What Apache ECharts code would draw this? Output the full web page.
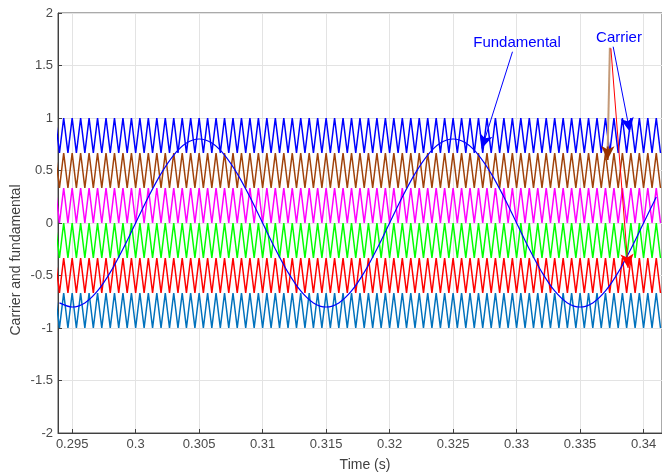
<!DOCTYPE html>
<html>
<head>
<meta charset="utf-8">
<script src="https://cdn.jsdelivr.net/npm/echarts@6/dist/echarts.min.js"></script>
<style>
html,body{margin:0;padding:0;background:#fff;}
#chart{width:662px;height:474px;}
</style>
</head>
<body>
<div id="chart"></div>
<script>
// ---- data ----
// vertex times of the (phase-disposed) triangular carriers, 1.5 kHz; first vertex is a peak
const carrierTimes = [
  0.293667,
  0.294, 0.294333, 0.294667, 0.295, 0.295333, 0.295667, 0.296, 0.296333, 0.296667,
  0.297, 0.297333, 0.297667, 0.298, 0.298333, 0.298667, 0.299, 0.299333, 0.299667,
  0.300, 0.300333, 0.300667, 0.301, 0.301333, 0.301667, 0.302, 0.302333, 0.302667,
  0.303, 0.303333, 0.303667, 0.304, 0.304333, 0.304667, 0.305, 0.305333, 0.305667,
  0.306, 0.306333, 0.306667, 0.307, 0.307333, 0.307667, 0.308, 0.308333, 0.308667,
  0.309, 0.309333, 0.309667, 0.310, 0.310333, 0.310667, 0.311, 0.311333, 0.311667,
  0.312, 0.312333, 0.312667, 0.313, 0.313333, 0.313667, 0.314, 0.314333, 0.314667,
  0.315, 0.315333, 0.315667, 0.316, 0.316333, 0.316667, 0.317, 0.317333, 0.317667,
  0.318, 0.318333, 0.318667, 0.319, 0.319333, 0.319667, 0.320, 0.320333, 0.320667,
  0.321, 0.321333, 0.321667, 0.322, 0.322333, 0.322667, 0.323, 0.323333, 0.323667,
  0.324, 0.324333, 0.324667, 0.325, 0.325333, 0.325667, 0.326, 0.326333, 0.326667,
  0.327, 0.327333, 0.327667, 0.328, 0.328333, 0.328667, 0.329, 0.329333, 0.329667,
  0.330, 0.330333, 0.330667, 0.331, 0.331333, 0.331667, 0.332, 0.332333, 0.332667,
  0.333, 0.333333, 0.333667, 0.334, 0.334333, 0.334667, 0.335, 0.335333, 0.335667,
  0.336, 0.336333, 0.336667, 0.337, 0.337333, 0.337667, 0.338, 0.338333, 0.338667,
  0.339, 0.339333, 0.339667, 0.340, 0.340333, 0.340667,
  0.341, 0.341333
];
const carrierNames = ['Carrier 1', 'Carrier 2', 'Carrier 3', 'Carrier 4', 'Carrier 5', 'Carrier 6'];
const carrierHigh = [1, 0.6667, 0.3333, 0, -0.3333, -0.6667];
const carrierLow  = [0.6667, 0.3333, 0, -0.3333, -0.6667, -1];
const carrierColors = ['#0000ff', '#a0420a', '#ff00ff', '#00ff00', '#ff0000', '#0072bd'];

// fundamental (50 Hz, amplitude 0.8) sampled every 1 ms
const fundTimes = [
  0.294, 0.295, 0.296, 0.297, 0.298, 0.299, 0.300, 0.301, 0.302, 0.303, 0.304, 0.305,
  0.306, 0.307, 0.308, 0.309, 0.310, 0.311, 0.312, 0.313, 0.314, 0.315, 0.316, 0.317,
  0.318, 0.319, 0.320, 0.321, 0.322, 0.323, 0.324, 0.325, 0.326, 0.327, 0.328, 0.329,
  0.330, 0.331, 0.332, 0.333, 0.334, 0.335, 0.336, 0.337, 0.338, 0.339, 0.340, 0.341
];
const fundValues = [
  -0.7608, -0.8, -0.7608, -0.6472, -0.4702, -0.2472, 0, 0.2472, 0.4702, 0.6472, 0.7608, 0.8,
  0.7608, 0.6472, 0.4702, 0.2472, 0, -0.2472, -0.4702, -0.6472, -0.7608, -0.8, -0.7608, -0.6472,
  -0.4702, -0.2472, 0, 0.2472, 0.4702, 0.6472, 0.7608, 0.8, 0.7608, 0.6472, 0.4702, 0.2472,
  0, -0.2472, -0.4702, -0.6472, -0.7608, -0.8, -0.7608, -0.6472, -0.4702, -0.2472, 0, 0.2472
];

const xTicks = [0.295, 0.3, 0.305, 0.31, 0.315, 0.32, 0.325, 0.33, 0.335, 0.34];
const xMin = 0.293885, xMax = 0.341451;

// annotation arrows in data coordinates: [t0, v0, t1, v1]
const arrowFund   = [0.329677, 1.631, 0.327268, 0.711];
const arrowBrown  = [0.337345, 1.670, 0.337157, 0.600];
const arrowRed    = [0.337424, 1.664, 0.338782, -0.429];
const arrowBlue   = [0.337605, 1.679, 0.338915, 0.870];

// ---- chart ----
const FONT = "'Liberation Sans', Arial, sans-serif";
const chart = echarts.init(document.getElementById('chart'), null, {renderer: 'canvas'});

const series = carrierNames.map((name, k) => ({
  name: name,
  type: 'line',
  showSymbol: false,
  symbol: 'none',
  animation: false,
  silent: true,
  lineStyle: {color: carrierColors[k], width: 1.5},
  data: carrierTimes.map((t, i) => [t, i % 2 === 0 ? carrierHigh[k] : carrierLow[k]])
}));

function arrowLine(a, color, width, withArrow) {
  return [
    {coord: [a[0], a[1]], symbol: 'none', lineStyle: {color: color, width: width, type: 'solid'}},
    {coord: [a[2], a[3]], symbol: withArrow ? 'arrow' : 'none', symbolSize: [10, 14], lineStyle: {color: color, width: width, type: 'solid'}}
  ];
}
// short brown arrow head segment at end of the brown arrow
const brownHead = [arrowBrown[2] + (arrowBrown[0]-arrowBrown[2])*0.12, arrowBrown[3] + (arrowBrown[1]-arrowBrown[3])*0.12, arrowBrown[2], arrowBrown[3]];

series.push({
  name: 'Fundamental',
  type: 'line',
  showSymbol: false,
  symbol: 'none',
  smooth: 0.3,
  animation: false,
  silent: true,
  lineStyle: {color: '#0000ff', width: 1.2},
  data: fundTimes.map((t, i) => [t, fundValues[i]]),
  markLine: {
    silent: true,
    animation: false,
    symbol: ['none', 'arrow'],
    label: {show: false},
    emphasis: {disabled: true},
    data: [
      arrowLine(arrowFund, '#0000ff', 1, true),
      arrowLine(arrowBrown, '#c49a78', 2, false),
      arrowLine(brownHead, '#993300', 2, true),
      arrowLine(arrowRed, '#ff0000', 1, true),
      arrowLine(arrowBlue, '#0000ff', 1, true)
    ]
  }
});

chart.setOption({
  backgroundColor: '#ffffff',
  animation: false,
  grid: {left: 58, right: -2, top: 13, bottom: 41, show: true, borderColor: '#555555', borderWidth: 1, backgroundColor: 'transparent'},
  xAxis: {
    type: 'value',
    min: xMin,
    max: xMax,
    splitNumber: 9,
    axisLine: {show: true, onZero: false, lineStyle: {color: '#404040', width: 1}},
    axisTick: {show: true, inside: true, length: 4, customValues: xTicks, lineStyle: {color: '#404040'}},
    axisLabel: {show: true, customValues: xTicks, margin: 5, color: '#4a4a4a', fontSize: 13, fontFamily: FONT,
      formatter: v => String(Math.round(v * 1000) / 1000)},
    splitLine: {show: true, lineStyle: {color: '#e3e3e3', width: 1}}
  },
  yAxis: {
    type: 'value',
    min: -2,
    max: 2,
    interval: 0.5,
    axisLine: {show: true, onZero: false, lineStyle: {color: '#404040', width: 1}},
    axisTick: {show: true, inside: true, length: 4, lineStyle: {color: '#404040'}},
    axisLabel: {margin: 5, color: '#4a4a4a', fontSize: 13, fontFamily: FONT},
    splitLine: {show: true, lineStyle: {color: '#e3e3e3', width: 1}}
  },
  graphic: [
    {type: 'text', x: 365, y: 465, silent: true,
      style: {text: 'Time (s)', fill: '#404040', font: '14px ' + FONT, textAlign: 'center', textVerticalAlign: 'middle'}},
    {type: 'text', x: 16, y: 260, rotation: Math.PI / 2, silent: true,
      style: {text: 'Carrier and fundamental', fill: '#404040', font: '14px ' + FONT, textAlign: 'center', textVerticalAlign: 'middle'}},
    {type: 'text', x: 517, y: 43, silent: true, z: 100,
      style: {text: 'Fundamental', fill: '#0000ff', font: '15px ' + FONT, textAlign: 'center', textVerticalAlign: 'middle'}},
    {type: 'text', x: 619, y: 38, silent: true, z: 100,
      style: {text: 'Carrier', fill: '#0000ff', font: '15px ' + FONT, textAlign: 'center', textVerticalAlign: 'middle'}}
  ],
  series: series
});
</script>
</body>
</html>
